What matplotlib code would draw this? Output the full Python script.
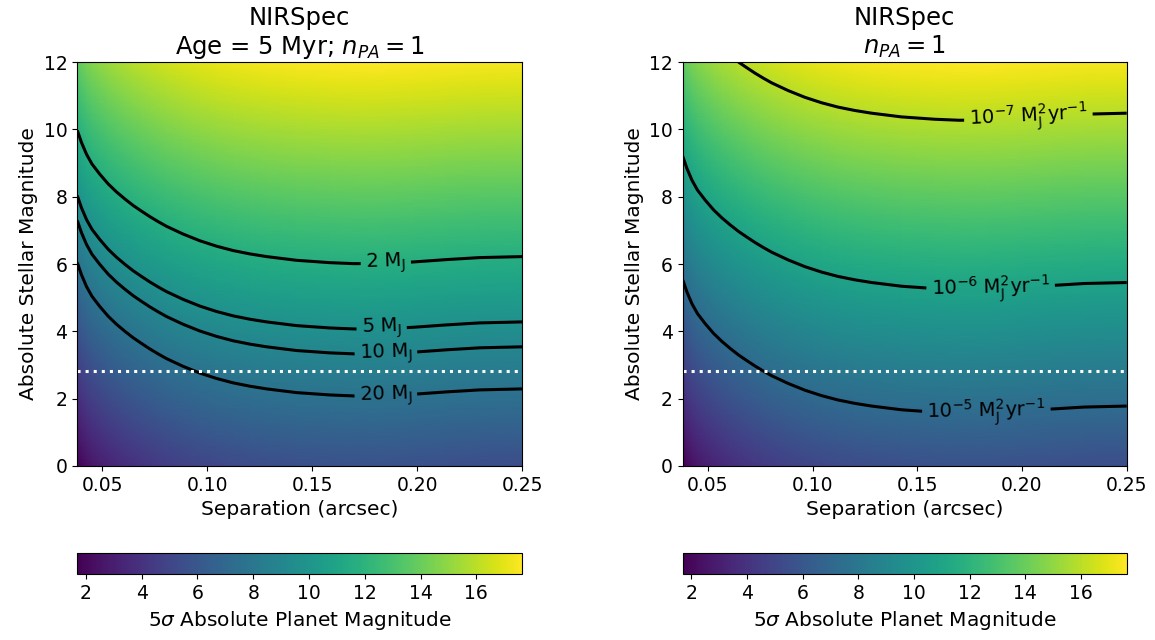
import numpy as np
import matplotlib
matplotlib.use("Agg")
import matplotlib.pyplot as plt

# planet/star contrast (mag) as a function of separation (arcsec)
sep_pts = [0.038, 0.040, 0.0424, 0.045, 0.0487, 0.0527, 0.0567, 0.0607, 0.0646,
           0.0686, 0.0725, 0.0765, 0.0805, 0.0884, 0.0964, 0.1043, 0.1122, 0.1202,
           0.1282, 0.1424, 0.1583, 0.170, 0.185, 0.198, 0.2137, 0.2296, 0.25]
contrast = [1.69, 2.05, 2.40, 2.69, 2.99, 3.28, 3.52, 3.73, 3.92,
            4.09, 4.25, 4.40, 4.54, 4.77, 4.97, 5.13, 5.26, 5.36,
            5.44, 5.55, 5.62, 5.65, 5.64, 5.60, 5.53, 5.47, 5.44]

# mass limits (left) and accretion rates (right), as planet magnitudes
mass_levels = [7.73, 8.98, 9.72, 11.66]
mass_labels = ["20 M$_\\mathrm{J}$", "10 M$_\\mathrm{J}$", "5 M$_\\mathrm{J}$", "2 M$_\\mathrm{J}$"]
acc_levels = [7.22, 10.89, 15.92]
acc_labels = ["$10^{-5}$ M$_\\mathrm{J}^2$yr$^{-1}$",
              "$10^{-6}$ M$_\\mathrm{J}^2$yr$^{-1}$",
              "$10^{-7}$ M$_\\mathrm{J}^2$yr$^{-1}$"]

sat_limit = 2.82

sep = np.array(sep_pts)
mag = np.linspace(0, 12, 121)  # stellar magnitude axis
planet = mag[:, None] + np.array(contrast)[None, :]

plt.rcParams['font.size'] = 13.5
plt.rcParams['axes.labelsize'] = 14.5

fig = plt.figure(figsize=(11.55, 6.4), dpi=100)
ax1 = fig.add_axes([0.0669, 0.2719, 0.3853, 0.6312])
ax2 = fig.add_axes([0.5911, 0.2719, 0.3844, 0.6312])
cax1 = fig.add_axes([0.0669, 0.1027, 0.3853, 0.0338])
cax2 = fig.add_axes([0.5911, 0.1027, 0.3844, 0.0338])


def panel(ax, cax, levels, labels, label_pos, title):
    pc = ax.pcolormesh(sep, mag, planet, cmap='viridis', shading='gouraud', rasterized=True)
    cs = ax.contour(sep, mag, planet, levels=levels, colors='k', linewidths=2.2)
    fmt = dict(zip(cs.levels, labels))
    ax.clabel(cs, fmt=fmt, inline=True, fontsize=14, manual=label_pos)
    ax.axhline(sat_limit, color='white', ls=':', lw=2.2)
    ax.set_xlim(0.038, 0.25)
    ax.set_ylim(0, 12)
    ax.set_xticks([0.05, 0.10, 0.15, 0.20, 0.25])
    ax.set_xlabel("Separation (arcsec)")
    ax.set_ylabel("Absolute Stellar Magnitude")
    ax.set_title(title, fontsize=17.5)
    cb = fig.colorbar(pc, cax=cax, orientation='horizontal')
    cb.set_ticks([2, 4, 6, 8, 10, 12, 14, 16])
    cb.set_label(r"5$\sigma$ Absolute Planet Magnitude", fontsize=14.5)


panel(ax1, cax1, mass_levels, mass_labels,
      [(0.185, 2.1), (0.185, 3.4), (0.183, 4.15), (0.185, 6.0)],
      "NIRSpec\nAge = 5 Myr; $n_{PA} = 1$")
panel(ax2, cax2, acc_levels, acc_labels,
      [(0.183, 1.6), (0.185, 5.3), (0.203, 10.4)],
      "NIRSpec\n$n_{PA} = 1$")

fig.savefig("out.png", dpi=100)
